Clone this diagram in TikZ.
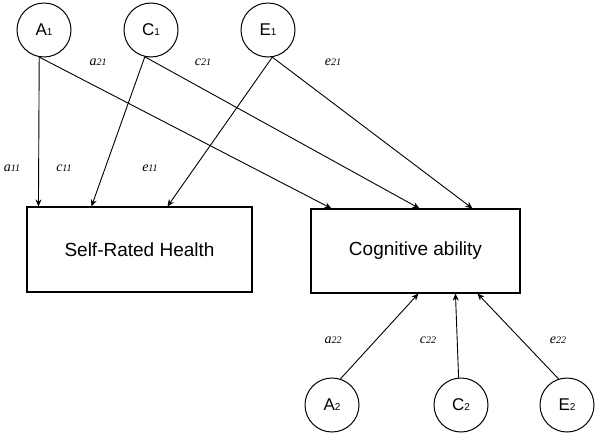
\documentclass[tikz,border=0pt]{standalone}
\usepackage{fontspec}
\setmainfont{Liberation Sans}
\newfontfamily\coeffont{Liberation Serif}
\usetikzlibrary{arrows.meta}

% latent factor label with small index
\newcommand{\latent}[2]{#1{\fontsize{10}{10}\selectfont #2}}
% path coefficient label
\newcommand{\coef}[2]{{\coeffont\itshape #1{\fontsize{10}{10}\selectfont\raisebox{-0.5pt}{#2}}}}

\tikzset{
    factor/.style={draw, circle, line width=1pt, minimum size=54pt, inner sep=0pt,
        font=\fontsize{17}{17}\selectfont},
    measure/.style={draw, rectangle, line width=1.1pt, inner sep=0pt,
        font=\fontsize{19}{19}\selectfont},
    coeflabel/.style={inner sep=0pt, font=\fontsize{14}{14}\selectfont},
    loading/.style={line width=0.9pt, -{Stealth[length=7pt,width=6pt]}}
}

\begin{document}
\begin{tikzpicture}[x=1pt, y=-1pt]
    \useasboundingbox (0,0) rectangle (600,437);

    % Top factors
    \node[factor] (A1) at (44,30) {\latent{A}{1}};
    \node[factor] (C1) at (151,30) {\latent{C}{1}};
    \node[factor] (E1) at (268,30) {\latent{E}{1}};

    % Observed measures
    \node[measure, minimum width=225pt, minimum height=85pt] (srh) at (139.5,249.5) {Self-Rated Health};
    \node[measure, minimum width=209pt, minimum height=84pt] (cog) at (415.5,251) {Cognitive ability};

    % Bottom factors
    \node[factor] (A2) at (332,405) {\latent{A}{2}};
    \node[factor] (C2) at (461,405) {\latent{C}{2}};
    \node[factor] (E2) at (567,405) {\latent{E}{2}};

    % Paths to self-rated health
    \draw[loading] (A1.260) -- ([xshift=12pt]srh.north west);
    \draw[loading] (C1.257) -- ([xshift=65pt]srh.north west);
    \draw[loading] (E1.279) -- ([xshift=141pt]srh.north west);

    % Paths to cognitive ability
    \draw[loading] (A1.260) -- ([xshift=21pt]cog.north west);
    \draw[loading] (C1.257) -- ([xshift=109pt]cog.north west);
    \draw[loading] (E1.279) -- ([xshift=162pt]cog.north west);
    \draw[loading] (A2.72) -- ([xshift=108pt]cog.south west);
    \draw[loading] (C2.95) -- ([xshift=145pt]cog.south west);
    \draw[loading] (E2.108) -- ([xshift=167pt]cog.south west);

    % Coefficients
    \foreach \name/\idx/\x/\y in {a/11/12/168, c/11/64/168, e/11/150/168,
                                  a/21/98/62, c/21/203/62, e/21/333/62,
                                  a/22/333/340, c/22/428/340, e/22/558/340}
        \node[coeflabel] (\name\idx) at (\x,\y) {\coef{\name}{\idx}};
\end{tikzpicture}
\end{document}
